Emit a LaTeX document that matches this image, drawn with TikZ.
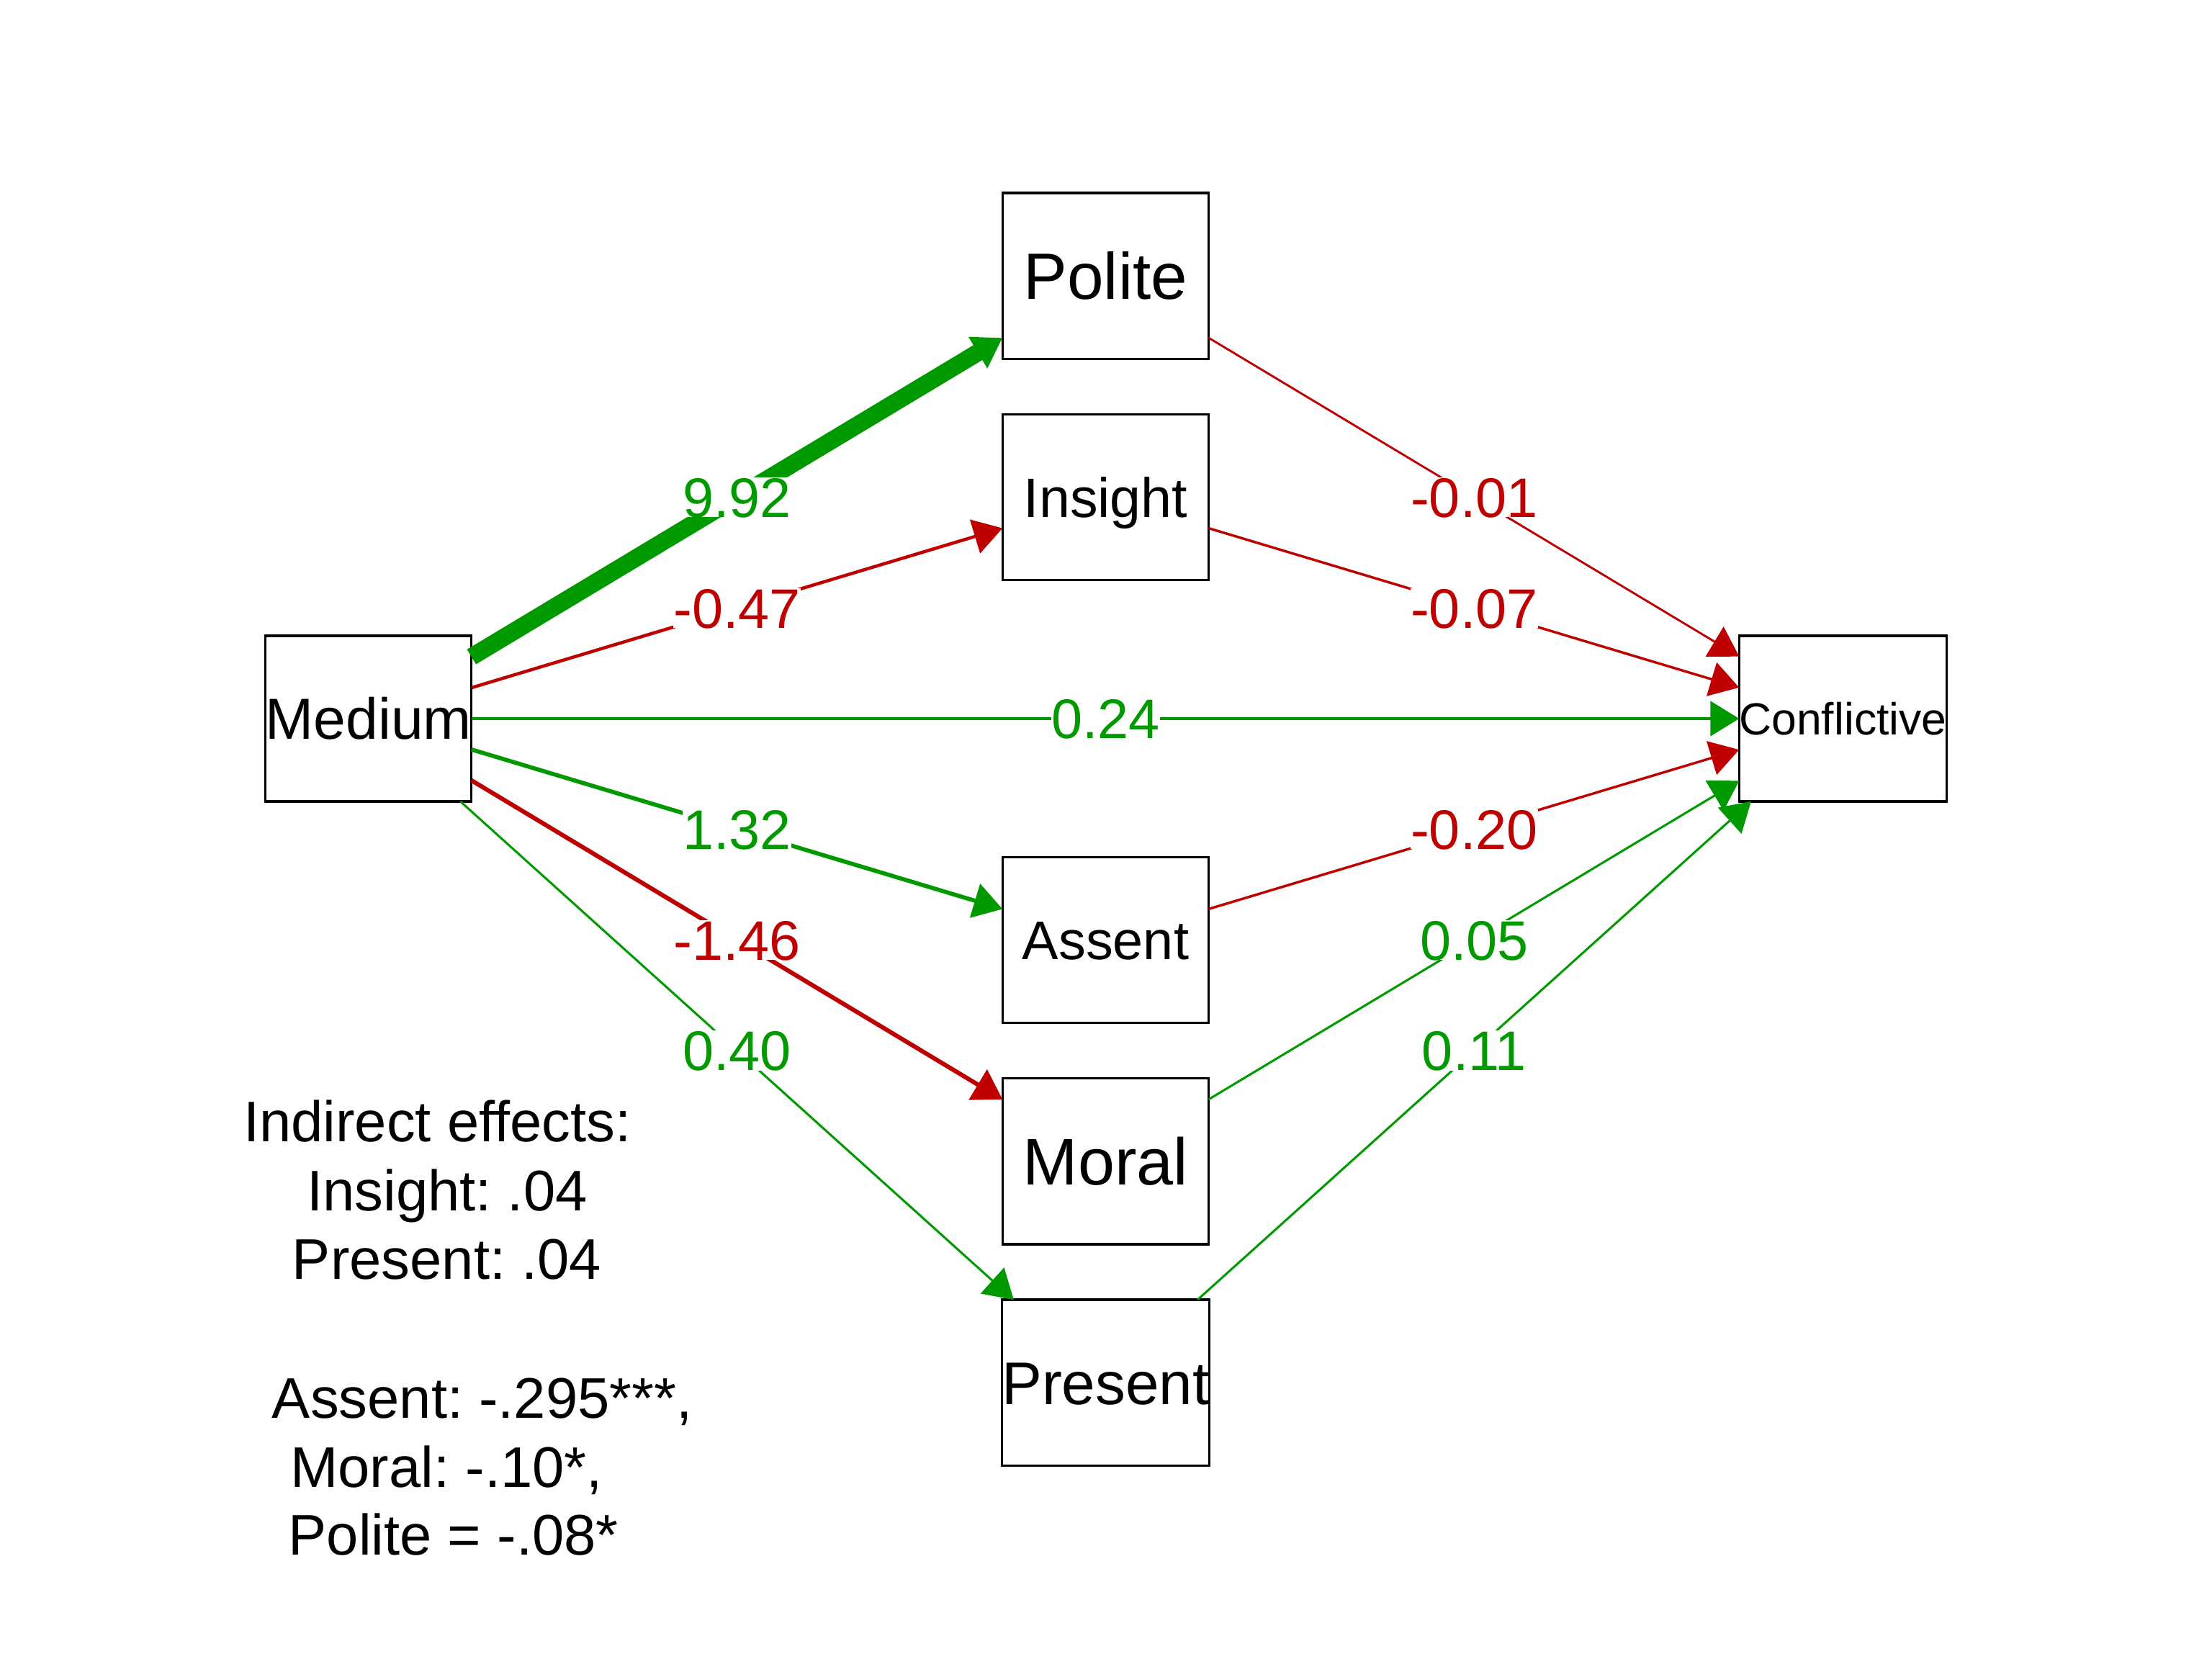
\documentclass[tikz,border=0pt]{standalone}
\usepackage{fontspec}
\setmainfont{Liberation Sans}[Ligatures=NoCommon]
\usetikzlibrary{arrows.meta,calc}
\definecolor{poscol}{RGB}{0,153,0}
\definecolor{negcol}{RGB}{191,0,0}
\frenchspacing

\begin{document}
\begin{tikzpicture}[x=0.01cm,y=-0.01cm,
  varbox/.style={draw=black, line width=0.48pt, rectangle,
    minimum width=1.46cm, minimum height=1.174cm,
    inner sep=0pt, outer sep=0pt, text depth=0pt},
  posedge/.style={draw=poscol, -{Triangle[length=5.8pt,width=7pt]}},
  negedge/.style={draw=negcol, -{Triangle[length=5.8pt,width=7pt]}},
  wlabel/.style={fill=white, inner sep=0pt,
    font=\fontsize{11.24pt}{13pt}\selectfont, text height=8.05pt, text depth=0pt},
  note/.style={anchor=base west, inner sep=0pt,
    font=\fontsize{11.55pt}{13.5pt}\selectfont},
]
\useasboundingbox (0,0) rectangle (1568,1176);

% variables
\node[varbox, font=\fontsize{11.68pt}{13pt}\selectfont, text height=8.36pt] (medium) at (261.2,509.4) {Medium};
\node[varbox, font=\fontsize{9.07pt}{11pt}\selectfont, text height=6.49pt] (conf) at (1306.4,509.4) {Conflictive};
\node[varbox, font=\fontsize{13.2pt}{15pt}\selectfont, text height=9.45pt] (polite) at (783.7,195.6) {Polite};
\node[varbox, font=\fontsize{11.2pt}{13pt}\selectfont, text height=8.02pt] (insight) at (783.7,352.5) {Insight};
\node[varbox, font=\fontsize{10.98pt}{13pt}\selectfont, text height=7.86pt] (assent) at (783.7,666.3) {Assent};
\node[varbox, font=\fontsize{13.3pt}{15pt}\selectfont, text height=9.52pt] (moral) at (783.7,823.2) {Moral};
\node[varbox, font=\fontsize{12.14pt}{14pt}\selectfont, text height=8.69pt] (present) at (783.7,980.1) {Present};

% paths from Medium
\draw[posedge, line width=3.5pt] (medium) -- (polite);
\draw[negedge, line width=0.65pt] (medium) -- (insight);
\draw[posedge, line width=0.58pt] (medium) -- (conf);
\draw[posedge, line width=0.83pt] (medium) -- (assent);
\draw[negedge, line width=0.87pt] (medium) -- (moral);
\draw[posedge, line width=0.44pt] (medium) -- (present);

% paths into Conflictive
\draw[negedge, line width=0.42pt] (polite) -- (conf);
\draw[negedge, line width=0.5pt] (insight) -- (conf);
\draw[negedge, line width=0.5pt] (assent) -- (conf);
\draw[posedge, line width=0.44pt] (moral) -- (conf);
\draw[posedge, line width=0.44pt] (present) -- (conf);

% coefficients
\node[wlabel, text=poscol] (w1) at ($(medium)!0.5!(polite)$) {9.92};
\node[wlabel, text=negcol] (w2) at ($(medium)!0.5!(insight)$) {-0.47};
\node[wlabel, text=poscol] (w3) at ($(medium)!0.5!(conf)$) {0.24};
\node[wlabel, text=poscol] (w4) at ($(medium)!0.5!(assent)$) {1.32};
\node[wlabel, text=negcol] (w5) at ($(medium)!0.5!(moral)$) {-1.46};
\node[wlabel, text=poscol] (w6) at ($(medium)!0.5!(present)$) {0.40};
\node[wlabel, text=negcol] (w7) at ($(polite)!0.5!(conf)$) {-0.01};
\node[wlabel, text=negcol] (w8) at ($(insight)!0.5!(conf)$) {-0.07};
\node[wlabel, text=negcol] (w9) at ($(assent)!0.5!(conf)$) {-0.20};
\node[wlabel, text=poscol] (w10) at ($(moral)!0.5!(conf)$) {0.05};
\node[wlabel, text=poscol] (w11) at ($(present)!0.5!(conf)$) {0.11};

% indirect effects
\node[note] (n1) at (171.9,809.4) {Indirect effects:};
\node[note] (n2) at (216.9,858.2) {Insight: .04};
\node[note] (n3) at (206.5,906.6) {Present: .04};
\node[note] (n4) at (192.2,1005.1) {Assent: -.295***,};
\node[note] (n5) at (205.2,1054.3) {Moral: -.10*,};
\node[note] (n6) at (203.9,1102.4) {Polite = -.08*};
\end{tikzpicture}
\end{document}
